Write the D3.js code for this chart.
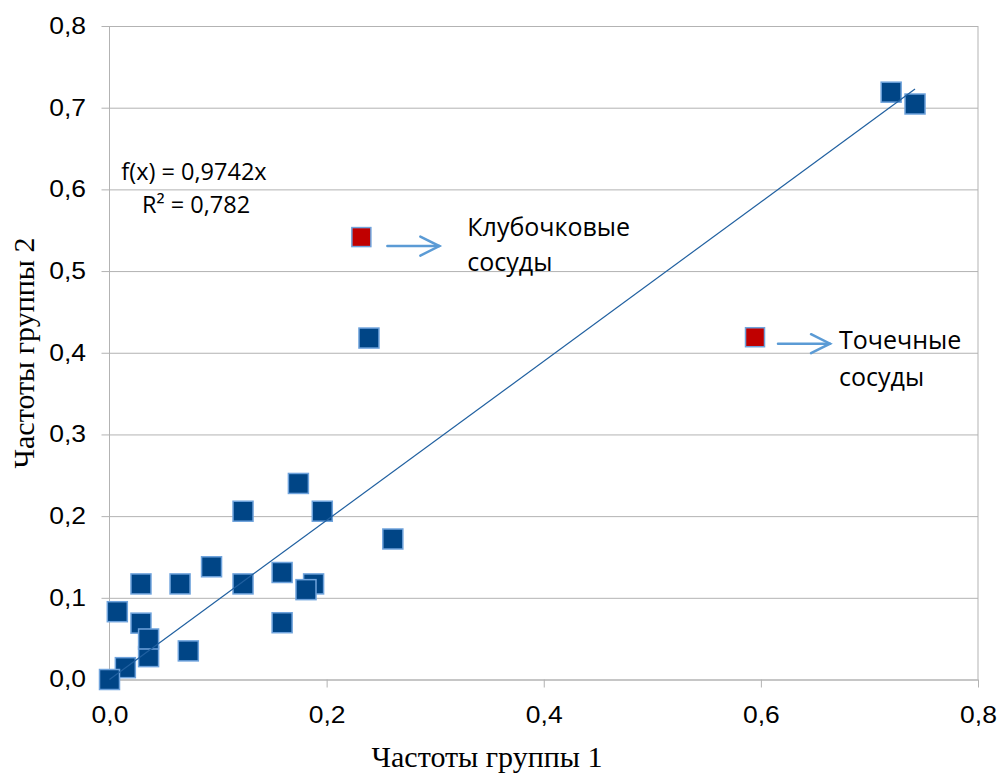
<!DOCTYPE html>
<html><head><meta charset="utf-8">
<script src="https://cdn.jsdelivr.net/npm/d3@7"></script>
<style>body{margin:0;background:#fff}svg{display:block}</style>
</head><body>
<svg id="c" width="998" height="775"></svg>
<script>
// ---- data ----
const group1 = [0.0146, 0.0072, 0.000, 0.029, 0.036, 0.036, 0.029, 0.065, 0.094, 0.0726, 0.123, 0.123, 0.174, 0.196, 0.159, 0.188, 0.181, 0.159, 0.261, 0.239, 0.720, 0.742];
const group2 = [0.0145, 0.083, 0.000, 0.069, 0.028, 0.0496, 0.117, 0.117, 0.138, 0.035, 0.117, 0.206, 0.240, 0.206, 0.131, 0.117, 0.110, 0.0695, 0.172, 0.418, 0.719, 0.7045];
const highlightX = [0.232, 0.5946];
const highlightY = [0.5416, 0.419];
const highlightNames = [["Клубочковые", "сосуды"], ["Точечные", "сосуды"]];
const slope = 0.9742;
const r2 = 0.782;
const yTicks = [0, 0.1, 0.2, 0.3, 0.4, 0.5, 0.6, 0.7, 0.8];
const xTicks = [0, 0.2, 0.4, 0.6, 0.8];
const xTitle = "Частоты группы 1";
const yTitle = "Частоты группы 2";

// ---- layout ----
const svg = d3.select("#c");
const L = 109.5, R = 978, T = 26, B = 679.5;
const x = d3.scaleLinear().domain([0, 0.8]).range([L, R]);
const y = d3.scaleLinear().domain([0, 0.8]).range([B, T]);
const fmt = v => d3.format(".1f")(v).replace(".", ",");
const grid = "#b3b3b3";
const tickFont = "'Liberation Sans', Arial, sans-serif";

function widen(sel, k) {
  sel.each(function () {
    const w = this.getComputedTextLength();
    d3.select(this).attr("textLength", w * k).attr("lengthAdjust", "spacingAndGlyphs");
  });
}

// horizontal grid + y ticks
const yAx = svg.append("g").attr("transform", `translate(${L},0)`)
  .call(d3.axisLeft(y).tickValues(yTicks).tickFormat(fmt).tickSize(-(R - L)).tickSizeOuter(0).tickPadding(23.5));
yAx.select(".domain").remove();
yAx.selectAll(".tick line").attr("stroke", grid).attr("x1", -8);
yAx.selectAll(".tick text").attr("font-family", tickFont).attr("font-size", 23).attr("fill", "#000").call(widen, 1.15);

// x axis
const xAx = svg.append("g").attr("transform", `translate(0,${B})`)
  .call(d3.axisBottom(x).tickValues(xTicks).tickFormat(fmt).tickSize(8).tickSizeOuter(0).tickPadding(19));
xAx.select(".domain").attr("stroke", grid);
xAx.selectAll(".tick line").attr("stroke", grid);
xAx.selectAll(".tick text").attr("font-family", tickFont).attr("font-size", 23).attr("fill", "#000").call(widen, 1.15);

// left axis line and right border
svg.append("line").attr("x1", L).attr("x2", L).attr("y1", T).attr("y2", B).attr("stroke", grid);
svg.append("line").attr("x1", R).attr("x2", R).attr("y1", T).attr("y2", B).attr("stroke", grid);

// markers
const pts = group1.map((v, i) => ({x: v, y: group2[i]}));
const s = 20;
svg.append("g").selectAll("rect").data(pts).join("rect")
  .attr("x", d => x(d.x) - s / 2).attr("y", d => y(d.y) - s / 2)
  .attr("width", s).attr("height", s)
  .attr("fill", "#004586").attr("stroke", "#6fa3dc").attr("stroke-width", 1.5);

const hp = highlightX.map((v, i) => ({x: v, y: highlightY[i], name: highlightNames[i]}));
const s2 = 19;
svg.append("g").selectAll("rect").data(hp).join("rect")
  .attr("x", d => x(d.x) - s2 / 2).attr("y", d => y(d.y) - s2 / 2)
  .attr("width", s2).attr("height", s2)
  .attr("fill", "#c00000").attr("stroke", "#6fa3dc").attr("stroke-width", 1.5);

// trend line
const xMax = d3.max(group1);
svg.append("line")
  .attr("x1", x(0)).attr("y1", y(0))
  .attr("x2", x(xMax)).attr("y2", y(slope * xMax))
  .attr("stroke", "#2060a0").attr("stroke-width", 1.2);

// trend label
const lblFont = "'Open Sans', 'Noto Sans', sans-serif";
svg.append("text").attr("x", 194).attr("y", 180).attr("text-anchor", "middle")
  .attr("font-family", lblFont).attr("font-size", 23.5).text("f(x) = " + d3.format(".4f")(slope).replace(".", ",") + "x");
svg.append("text").attr("x", 196).attr("y", 213).attr("text-anchor", "middle")
  .attr("font-family", lblFont).attr("font-size", 23.5).text("R² = " + String(r2).replace(".", ","));

// arrows and annotation labels (pixel offsets relative to each marker)
const arrowColor = "#5b9bd5";
const annLayout = [
  {a0: 26, a1: 78, ay: 9, tx: 106, ty: -1, lh: 35},
  {a0: 23, a1: 75, ay: 6.5, tx: 84, ty: 12, lh: 37}
];
hp.forEach((d, i) => {
  const px = x(d.x), py = y(d.y), o = annLayout[i];
  const ax0 = px + o.a0, ax1 = px + o.a1, ay = py + o.ay;
  const g = svg.append("g").attr("stroke", arrowColor).attr("stroke-width", 2.5).attr("fill", "none").attr("stroke-linecap", "round");
  g.append("line").attr("x1", ax0).attr("x2", ax1).attr("y1", ay).attr("y2", ay);
  g.append("path").attr("d", `M${ax1 - 19},${ay - 9.5}L${ax1},${ay}L${ax1 - 19},${ay + 9.5}`);
  const t = svg.append("text").attr("font-family", lblFont).attr("font-size", 25).attr("fill", "#000");
  t.selectAll("tspan").data(d.name).join("tspan")
    .attr("x", px + o.tx)
    .attr("y", (n, j) => py + o.ty + j * o.lh)
    .text(n => n);
});

// axis titles
const titleFont = "'Liberation Serif', 'Times New Roman', serif";
svg.append("text").attr("x", 487).attr("y", 767).attr("text-anchor", "middle")
  .attr("font-family", titleFont).attr("font-size", 30).text(xTitle);
svg.append("text").attr("transform", "translate(34,353) rotate(-90)").attr("text-anchor", "middle")
  .attr("font-family", titleFont).attr("font-size", 30).text(yTitle);
</script>
</body></html>
